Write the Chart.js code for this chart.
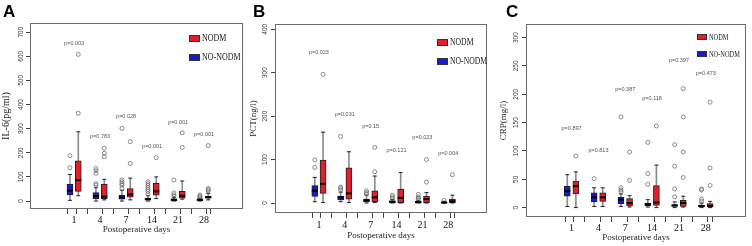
<!DOCTYPE html>
<html>
<head>
<meta charset="utf-8">
<script src="https://cdn.jsdelivr.net/npm/chart.js@4.4.0/dist/chart.umd.min.js"></script>
<style>
  body { margin: 0; background: #fff; }
  #wrap { position: relative; width: 752px; height: 246px; overflow: hidden; }
  canvas { position: absolute; top: 0; }
  .tag { position: absolute; font: bold 17px "Liberation Sans", Arial, sans-serif; line-height: 17px; color: #000; }
  .sw { position: absolute; border: 1px solid #333; box-sizing: border-box; }
  .lg { position: absolute; font-family: "Liberation Serif", "Times New Roman", serif; color: #222;
        white-space: nowrap; transform-origin: left center; }
</style>
</head>
<body>
<div id="wrap">
  <canvas id="chartA" width="250" height="246" style="left:0"></canvas>
  <canvas id="chartB" width="250" height="246" style="left:250px"></canvas>
  <canvas id="chartC" width="252" height="246" style="left:500px"></canvas>

  <div class="tag" style="left:3px;top:3px">A</div>
  <div class="tag" style="left:253px;top:3px">B</div>
  <div class="tag" style="left:506px;top:3px">C</div>

  <div class="sw" style="left:189px;top:35px;width:11px;height:7px;background:#e0202a"></div>
  <div class="lg" style="left:202px;top:32px;font-size:10px;line-height:12px;transform:scaleX(0.8)">NODM</div>
  <div class="sw" style="left:189px;top:54px;width:11px;height:7px;background:#1a1ad2"></div>
  <div class="lg" style="left:202px;top:51px;font-size:10px;line-height:12px;transform:scaleX(0.8)">NO-NODM</div>

  <div class="sw" style="left:437px;top:39px;width:11px;height:7px;background:#e0202a"></div>
  <div class="lg" style="left:450px;top:36px;font-size:10px;line-height:12px;transform:scaleX(0.77)">NODM</div>
  <div class="sw" style="left:437px;top:58px;width:11px;height:7px;background:#1a1ad2"></div>
  <div class="lg" style="left:450px;top:55px;font-size:10px;line-height:12px;transform:scaleX(0.77)">NO-NODM</div>

  <div class="sw" style="left:697px;top:34px;width:10px;height:6px;background:#e0202a"></div>
  <div class="lg" style="left:709px;top:31px;font-size:8.5px;line-height:12px;transform:scaleX(0.75)">NODM</div>
  <div class="sw" style="left:697px;top:51px;width:10px;height:6px;background:#1a1ad2"></div>
  <div class="lg" style="left:709px;top:48px;font-size:8.5px;line-height:12px;transform:scaleX(0.75)">NO-NODM</div>
</div>

<script>
const days = ['1', '4', '7', '14', '21', '28'];

// each row: [lower whisker, Q1, median, Q3, upper whisker]
// A: IL-6
const il6NoNodm = [[3, 25, 43, 70, 110], [0, 10, 20, 35, 55], [0, 8, 15, 24, 45], [0, 4, 8, 12, 22], [0, 2, 5, 9, 15], [0, 2, 5, 9, 12]];
const il6Nodm = [[22, 40, 87, 167, 287], [5, 10, 18, 70, 90], [5, 16, 27, 52, 95], [10, 24, 40, 73, 100], [8, 12, 22, 40, 83], [5, 12, 16, 20, 32]];
const il6NoNodmOut = [[138, 188], [66, 72, 115, 126, 135], [52, 66, 72, 80, 88, 301], [30, 40, 48, 56, 64, 72, 80], [18, 26, 34, 87], [15, 20, 25]];
const il6NodmOut = [[364, 608], [184, 198, 219], [156, 246], [180], [222, 283], [42, 47, 52, 230]];
const il6P = ['p=0.003', 'p=0.783', 'p=0.028', 'p=0.001', 'p=0.001', 'p=0.001'];
const il6PY = [654, 266, 350, 228, 327, 277];
const il6Ticks = [0, 100, 200, 300, 400, 500, 600, 700];

// B: PCT
const pctNoNodm = [[3, 15, 28, 40, 59], [3, 7, 13, 16, 25], [0, 3, 6, 9, 18], [0, 1, 3, 5, 8], [0, 1, 2, 4, 6], [0, 0.5, 1, 2, 4]];
const pctNodm = [[1, 22, 44, 99, 163], [1, 9, 22, 81, 118], [1, 3, 13, 28, 62], [0, 1, 12, 32, 70], [0, 1, 9, 16, 24], [0, 1, 4, 9, 18]];
const pctNoNodmOut = [[82, 99], [30, 34, 37, 153], [21, 24, 28], [11, 14, 18], [8, 11, 14, 20], [6]];
const pctNodmOut = [[296], [], [72, 128], [], [48, 100], [65]];
const pctP = ['p=0.023', 'p=0.031', 'p=0.15', 'p=0.121', 'p=0.023', 'p=0.004'];
const pctPY = [346, 203, 177, 120, 150, 114];
const pctTicks = [0, 100, 200, 300, 400];

// C: CRP
const crpNoNodm = [[2, 20, 29, 38, 58], [2, 10, 18, 26, 35], [2, 7, 14, 18, 24], [1, 3, 6, 8, 14], [0, 2, 4, 5, 10], [0, 1, 3, 4, 8]];
const crpNodm = [[0, 24, 38, 47, 63], [2, 11, 18, 26, 35], [1, 3, 8, 16, 21], [0, 4, 9, 39, 75], [1, 2, 8, 13, 20], [0, 1, 3, 7, 11]];
const crpNoNodmOut = [[], [51], [28, 31, 35, 160], [41, 60, 115], [19, 33, 73, 111], [11, 15, 31, 33]];
const crpNodmOut = [[91], [], [48, 98], [144], [53, 98, 160, 210], [39, 70, 186]];
const crpP = ['p=0.897', 'p=0.813', 'p=0.387', 'p=0.118', 'p=0.397', 'p=0.473'];
const crpPY = [140, 100, 209, 193, 260, 236];
const crpTicks = [0, 50, 100, 150, 200, 250, 300];

const RED = '#e0202a';
const BLUE = '#1a1ad2';
const OFF = 0.16;

// tick marks under each box, label in the middle of the pair
const tickPos = [];
days.forEach((d, i) => { tickPos.push(i - OFF, i, i + OFF); });

function buildDatasets(noNodm, nodm, noNodmOut, nodmOut) {
    const groups = [
        { stats: noNodm, out: noNodmOut, dx: -OFF, color: BLUE },
        { stats: nodm, out: nodmOut, dx: OFF, color: RED }
    ];
    const sets = [];
    const whiskers = [], caps = [], medians = [], outliers = [];
    groups.forEach(g => {
        g.stats.forEach((s, i) => {
            const x = i + g.dx;
            whiskers.push({ x: x, y: [s[0], s[4]] });
            caps.push({ x: x, y: s[0] }, { x: x, y: s[4] });
            medians.push({ x: x, y: s[2] });
            g.out[i].forEach(v => outliers.push({ x: x, y: v }));
        });
        sets.push({
            type: 'bar',
            data: g.stats.map((s, i) => ({ x: i + g.dx, y: [s[1], s[3]] })),
            backgroundColor: g.color,
            borderColor: '#202020',
            borderWidth: 1,
            borderSkipped: false,
            barThickness: 6,
            grouped: false,
            order: 4
        });
    });
    sets.push({ type: 'bar', data: whiskers, backgroundColor: '#8c8c8c', barThickness: 1, grouped: false, order: 6 });
    sets.push({ type: 'scatter', data: caps, pointStyle: 'line', pointRadius: 2, pointBorderColor: '#222', pointBorderWidth: 1, order: 3 });
    sets.push({ type: 'scatter', data: medians, pointStyle: 'line', pointRadius: 3, pointBorderColor: '#000', pointBorderWidth: 2, order: 1 });
    sets.push({
        type: 'scatter', data: outliers, pointStyle: 'circle', pointRadius: 2,
        pointBorderColor: '#6e6e6e', pointBorderWidth: 0.8, pointBackgroundColor: 'rgba(0,0,0,0)', order: 2
    });
    return sets;
}

// frame around the plot + p-value labels
const pvals = {
    id: 'pvals',
    afterDraw(chart, args, opts) {
        const { ctx, chartArea: a, scales } = chart;
        ctx.save();
        ctx.strokeStyle = '#6a6a6a';
        ctx.lineWidth = 1;
        ctx.strokeRect(Math.round(a.left) + 0.5, Math.round(a.top) + 0.5, Math.round(a.width) - 1, Math.round(a.height) - 1);
        ctx.fillStyle = '#555';
        ctx.font = '5.5px "Liberation Sans", Arial, sans-serif';
        ctx.textAlign = 'center';
        ctx.textBaseline = 'middle';
        opts.texts.forEach((t, i) => {
            ctx.fillText(t, scales.x.getPixelForValue(i), scales.y.getPixelForValue(opts.ys[i]));
        });
        ctx.restore();
    }
};

function makeChart(id, p) {
    return new Chart(document.getElementById(id), {
        type: 'scatter',
        data: { datasets: buildDatasets(p.noNodm, p.nodm, p.noNodmOut, p.nodmOut) },
        options: {
            responsive: false,
            animation: false,
            events: [],
            layout: { padding: { top: p.top, right: p.right, left: 0, bottom: 0 } },
            plugins: {
                legend: { display: false },
                tooltip: { enabled: false },
                pvals: { texts: p.ptext, ys: p.py }
            },
            scales: {
                x: {
                    type: 'linear',
                    min: -1.47,
                    max: 6.27,
                    afterBuildTicks: s => { s.ticks = tickPos.map(v => ({ value: v })); },
                    afterFit: s => { s.height = p.xh; },
                    border: { display: false },
                    grid: {
                        drawOnChartArea: false,
                        tickLength: 5,
                        tickColor: c => (c.index % 3 === 1 ? 'rgba(0,0,0,0)' : '#444')
                    },
                    ticks: {
                        autoSkip: false,
                        maxRotation: 0,
                        padding: p.xpad,
                        color: '#111',
                        font: { family: '"Liberation Serif", "Times New Roman", serif', size: 10 },
                        callback: (v, i) => (i % 3 === 1 ? days[(i - 1) / 3] : '')
                    },
                    title: {
                        display: true,
                        text: 'Postoperative days',
                        color: '#222',
                        font: { family: '"Liberation Serif", "Times New Roman", serif', size: 9 },
                        padding: { top: 0, bottom: p.tpad }
                    }
                },
                y: {
                    type: 'linear',
                    min: p.ymin,
                    max: p.ymax,
                    afterBuildTicks: s => { s.ticks = p.yticks.map(v => ({ value: v })); },
                    afterFit: s => { s.width = p.yw; },
                    border: { display: false },
                    grid: { drawOnChartArea: false, tickLength: 4, tickColor: '#444' },
                    ticks: {
                        minRotation: 90,
                        maxRotation: 90,
                        crossAlign: 'center',
                        padding: p.ypad,
                        color: '#3a3a3a',
                        font: { family: '"Liberation Sans", Arial, sans-serif', size: 6.5 }
                    },
                    title: {
                        display: true,
                        text: p.ylabel,
                        color: '#222',
                        font: { family: '"Liberation Serif", "Times New Roman", serif', size: p.ysize },
                        padding: { top: p.ytpad, bottom: 0 }
                    }
                }
            }
        },
        plugins: [pvals]
    });
}

makeChart('chartA', {
    noNodm: il6NoNodm, nodm: il6Nodm, noNodmOut: il6NoNodmOut, nodmOut: il6NodmOut,
    ptext: il6P, py: il6PY, yticks: il6Ticks, ymin: -33, ymax: 738,
    top: 23, right: 7, yw: 30, xh: 37, xpad: 0, tpad: 10.6, ypad: -1.1,
    ylabel: 'IL-6(pg/ml)', ysize: 10, ytpad: 0
});
makeChart('chartB', {
    noNodm: pctNoNodm, nodm: pctNodm, noNodmOut: pctNoNodmOut, nodmOut: pctNodmOut,
    ptext: pctP, py: pctPY, yticks: pctTicks, ymin: -23, ymax: 412,
    top: 24, right: 13, yw: 25, xh: 33, xpad: 1, tpad: 4.6, ypad: 0.6,
    ylabel: 'PCT(ng/l)', ysize: 9, ytpad: -2
});
makeChart('chartC', {
    noNodm: crpNoNodm, nodm: crpNodm, noNodmOut: crpNoNodmOut, nodmOut: crpNodmOut,
    ptext: crpP, py: crpPY, yticks: crpTicks, ymin: -16.6, ymax: 324,
    top: 24, right: 6, yw: 26, xh: 29, xpad: 0, tpad: 2.6, ypad: -0.1,
    ylabel: 'CRP(mg/l)', ysize: 9, ytpad: -2
});
</script>
</body>
</html>
